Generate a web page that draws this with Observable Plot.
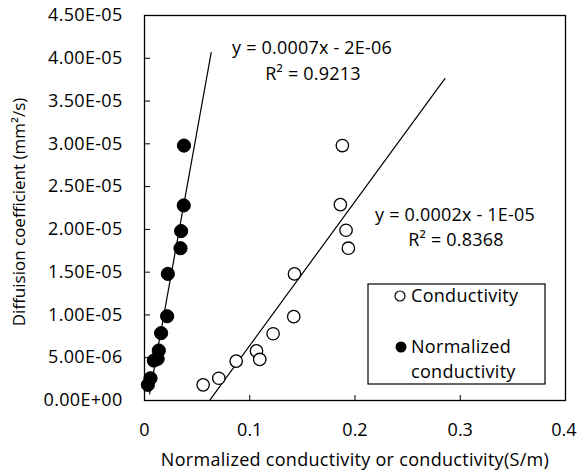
<!DOCTYPE html>
<html>
<head>
<meta charset="utf-8">
<script src="https://cdn.jsdelivr.net/npm/d3@7"></script>
<script src="https://cdn.jsdelivr.net/npm/@observablehq/plot@0.6"></script>
<style>
  html, body { margin: 0; padding: 0; background: #fff; }
  #chart svg { display: block; }
</style>
</head>
<body>
<div id="chart"></div>
<script>
// ---- data ----
const conductivityX = [0.0557, 0.0706, 0.0871, 0.1064, 0.1095, 0.1222, 0.1418, 0.1425, 0.1861, 0.1880, 0.1915, 0.1937];
const conductivityY = [1.83e-6, 2.6e-6, 4.6e-6, 5.8e-6, 4.8e-6, 7.8e-6, 9.8e-6, 1.48e-5, 2.29e-5, 2.98e-5, 1.99e-5, 1.78e-5];

const normalizedX = [0.0032, 0.0057, 0.0089, 0.0125, 0.0136, 0.0158, 0.0215, 0.0222, 0.0342, 0.0348, 0.0373, 0.0375];
const normalizedY = [1.83e-6, 2.6e-6, 4.67e-6, 4.87e-6, 5.84e-6, 7.87e-6, 9.85e-6, 1.48e-5, 1.78e-5, 1.98e-5, 2.28e-5, 2.98e-5];

// trend lines (slope, intercept, x-extent as drawn)
const trendNormalized = [6.82e-4, -2.56e-6, 0.0049, 0.0634];
const trendConductivity = [1.683e-4, -1.04e-5, 0.0617, 0.2854];

const xTicks = [0, 0.1, 0.2, 0.3, 0.4];
const yTicks = [0, 5e-6, 1e-5, 1.5e-5, 2e-5, 2.5e-5, 3e-5, 3.5e-5, 4e-5, 4.5e-5];

const seriesNames = ["Conductivity", "Normalized", "conductivity"];
const equations = ["y = 0.0007x - 2E-06", "R² = 0.9213", "y = 0.0002x - 1E-05", "R² = 0.8368"];
const xTitle = "Normalized conductivity or conductivity(S/m)";
const yTitle = "Diffuision coefficient (mm²/s)";

// ---- build ----
const cond = conductivityX.map((x, i) => ({x, y: conductivityY[i]}));
const norm = normalizedX.map((x, i) => ({x, y: normalizedY[i]}));
const lineOf = ([m, b, x0, x1]) => [x0, x1].map(x => ({x, y: m * x + b}));

function sci(d) {
  if (d === 0) return "0.00E+00";
  const [mant, ex] = d.toExponential(2).split("e");
  const e = +ex;
  return mant + "E" + (e < 0 ? "-" : "+") + String(Math.abs(e)).padStart(2, "0");
}

const FONT = "'Open Sans', Lato, sans-serif";

const plot = Plot.plot({
  width: 577,
  height: 472,
  marginLeft: 144,
  marginRight: 12,
  marginTop: 15,
  marginBottom: 72,
  style: {fontFamily: FONT, fontSize: "18px", color: "#000", background: "#fff", overflow: "visible"},
  x: {domain: [0, 0.4]},
  y: {domain: [0, 4.5e-5]},
  marks: [
    Plot.frame({stroke: "#000", strokeWidth: 1.3}),
    Plot.axisX({ticks: xTicks, tickSize: -5, tickPadding: 28, tickFormat: d => d === 0 ? "0" : String(d), label: null}),
    Plot.axisY({ticks: yTicks, tickSize: -6, tickPadding: 28, tickFormat: sci, label: null}),
    Plot.line(lineOf(trendNormalized), {x: "x", y: "y", stroke: "#000", strokeWidth: 1.2}),
    Plot.line(lineOf(trendConductivity), {x: "x", y: "y", stroke: "#000", strokeWidth: 1.2}),
    Plot.dot(cond, {x: "x", y: "y", r: 6.2, fill: "#fff", stroke: "#000", strokeWidth: 1.3}),
    Plot.dot(norm, {x: "x", y: "y", r: 6.6, fill: "#000", stroke: "#000", strokeWidth: 1})
  ]
});
document.getElementById("chart").append(plot);

const svg = d3.select(plot);
svg.selectAll("g[aria-label='y-axis tick label'] text")
  .style("font-size", "18px").style("font-family", FONT).style("letter-spacing", "0.3px");
const xLabels = svg.selectAll("g[aria-label='x-axis tick label'] text")
  .style("font-size", "18px").style("font-family", FONT);
// keep the last x tick label inside the picture
xLabels.filter((d, i, n) => i === n.length - 1).attr("text-anchor", "end").attr("dx", 11);

// ---- axis titles ----
svg.append("text").attr("x", 355).attr("y", 460).attr("dy", "0.35em").attr("text-anchor", "middle")
  .style("font-family", FONT).style("font-size", "18px").style("letter-spacing", "0.3px").attr("fill", "#000")
  .text(xTitle);
svg.append("text").attr("transform", "translate(19,212) rotate(-90)").attr("dy", "0.35em").attr("text-anchor", "middle")
  .style("font-family", FONT).style("font-size", "17px").attr("fill", "#000")
  .text(yTitle);

// ---- annotations and legend (pixel layout) ----
const ann = svg.append("g").style("font-family", FONT).style("font-size", "18px").style("letter-spacing", "0.2px")
  .attr("fill", "#000").attr("text-anchor", "middle");
[[312, 48], [313, 74], [455, 215], [456, 240]].forEach(([px, py], i) => {
  ann.append("text").attr("x", px).attr("y", py).attr("dy", "0.35em").text(equations[i]);
});

const leg = svg.append("g").style("font-family", FONT).style("font-size", "18px").style("letter-spacing", "0.3px")
  .attr("fill", "#000").attr("text-anchor", "start");
leg.append("rect").attr("x", 368).attr("y", 284).attr("width", 177).attr("height", 100)
  .attr("fill", "#fff").attr("stroke", "#000").attr("stroke-width", 1.2);
leg.append("circle").attr("cx", 400).attr("cy", 296).attr("r", 5).attr("fill", "#fff").attr("stroke", "#000").attr("stroke-width", 1.2);
leg.append("circle").attr("cx", 401).attr("cy", 347).attr("r", 5.5).attr("fill", "#000");
leg.append("text").attr("x", 411).attr("y", 296).attr("dy", "0.35em").text(seriesNames[0]);
leg.append("text").attr("x", 411).attr("y", 347).attr("dy", "0.35em").text(seriesNames[1]);
leg.append("text").attr("x", 411).attr("y", 372).attr("dy", "0.35em").text(seriesNames[2]);
</script>
</body>
</html>
